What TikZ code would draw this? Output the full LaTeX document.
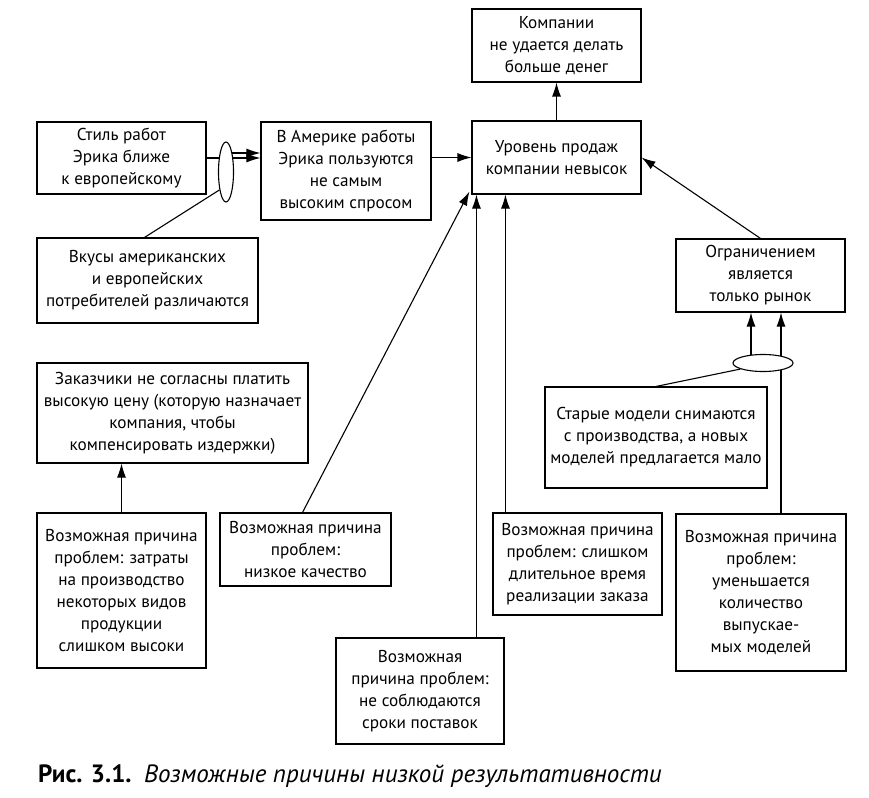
\documentclass[tikz,border=0pt]{standalone}
\usepackage{fontspec}
\setmainfont{PT Sans}
\usetikzlibrary{arrows.meta,shapes.geometric,backgrounds}
\begin{document}
\begin{tikzpicture}[x=1pt,y=-1pt,
  box/.style={draw,line width=1.1pt,align=center,inner sep=2pt,font=\fontsize{17.2}{22}\selectfont},
  oval/.style={draw,line width=1.1pt,ellipse,fill=white,inner sep=0pt},
  arr/.style={line width=1.1pt,-{Latex[length=14pt,width=9pt]}},
  ln/.style={line width=1.1pt}]
\useasboundingbox (0,0) rectangle (869,797);
\node[box,minimum width=169pt,minimum height=73pt] (k) at (556.5,45.5) {Компании\\не удается делать\\больше денег};
\node[box,minimum width=169pt,minimum height=73pt] (u) at (556.5,157.5) {Уровень продаж\\компании невысок};
\node[box,minimum width=169pt,minimum height=72pt] (s) at (121.5,158) {Стиль работ\\Эрика ближе\\к европейскому};
\node[box,minimum width=170pt,minimum height=98pt] (a) at (346,171) {В Америке работы\\Эрика пользуются\\не самым\\высоким спросом};
\node[box,minimum width=221pt,minimum height=85pt] (v) at (147.5,280.5) {Вкусы американских\\и европейских\\потребителей различаются};
\node[box,minimum width=169pt,minimum height=73pt] (o) at (760.5,275.5) {Ограничением\\является\\только рынок};
\node[box,minimum width=222pt,minimum height=101pt] (st) at (656,437.5) {Старые модели снимаются\\с производства, а новых\\моделей предлагается мало};
\node[box,minimum width=170pt,minimum height=157pt] (um) at (761,592.5) {Возможная причина\\проблем:\\уменьшается\\количество\\выпускае-\\мых моделей};
\node[box,minimum width=271pt,minimum height=100pt] (z) at (172.5,413) {Заказчики не согласны платить\\высокую цену (которую назначает\\компания, чтобы\\компенсировать издержки)};
\node[box,minimum width=169pt,minimum height=155pt] (zt) at (121.5,590.5) {Возможная причина\\проблем: затраты\\на производство\\некоторых видов\\продукции\\слишком высоки};
\node[box,minimum width=171pt,minimum height=73pt] (nk) at (305.5,549.5) {Возможная причина\\проблем:\\низкое качество};
\node[box,minimum width=168pt,minimum height=106pt] (ns) at (420,691) {Возможная\\причина проблем:\\не соблюдаются\\сроки поставок};
\node[box,minimum width=169pt,minimum height=102pt] (dl) at (577.5,564) {Возможная причина\\проблем: слишком\\длительное время\\реализации заказа};
\node[oval,minimum width=15pt,minimum height=60pt] (e1) at (226,172) {};
\node[oval,minimum width=60pt,minimum height=17pt] (e2) at (763,363) {};
\node[anchor=base west,inner sep=0pt,font=\fontsize{25}{29}\selectfont] (cap) at (38,782) {\textbf{Рис. 3.1.}\enspace\textit{Возможные причины низкой результативности}};
\begin{scope}[on background layer]
\draw[ln] (s.east) -- (s.east -| e1.center);
\draw[arr] (e1.center |- s.east) -- (a.west |- s.east);
\draw[arr] ([yshift=19pt]e1.center) -- ([yshift=19pt]e1.center -| a.west);
\draw[arr] ([xshift=-12pt]e2.center) -- ([xshift=-12pt]e2.center |- o.south);
\draw[arr] ([xshift=18pt]e2.center |- um.north) -- ([xshift=18pt]e2.center |- o.south);
\end{scope}
\draw[ln] ([xshift=-3pt]v.north) -- (e1.250);
\draw[ln] (st.north) -- (e2.195);
\draw[arr] (u.north) -- (k.south);
\draw[arr] (a.east |- u.west) -- (u.west);
\draw[arr] (o.north) -- (u.east);
\draw[arr] ([xshift=-3pt]nk.north) -- ([xshift=-2pt,yshift=3pt]u.south west);
\draw[arr] ([xshift=5pt]u.south west |- ns.north) -- ([xshift=5pt]u.south west);
\draw[arr] ([xshift=34pt]u.south west |- dl.north) -- ([xshift=34pt]u.south west);
\draw[arr] (zt.north) -- (zt.north |- z.south);
\end{tikzpicture}
\end{document}
